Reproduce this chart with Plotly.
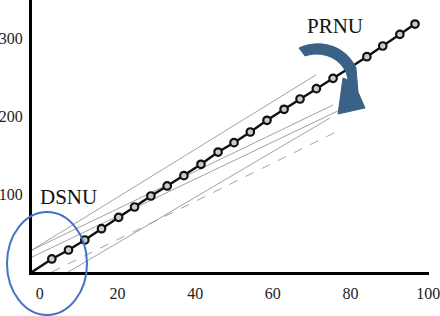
import plotly.graph_objects as go

# ---- data ----
origin_x = -2.0
origin_y = 0.0
marker_x = [3.1, 7.4, 11.6, 15.9, 20.3, 24.4, 28.6, 32.8, 37.1, 41.5, 45.9, 50.0,
            54.2, 58.5, 62.9, 67.0, 71.2, 75.5, 79.8, 84.2, 88.3, 92.7, 96.6]
marker_y = [16.7, 28.2, 41.0, 55.5, 70.1, 83.3, 97.4, 110.3, 123.5, 138.1, 153.8, 165.8,
            179.5, 194.5, 208.6, 221.8, 235.0, 248.3, 261.9, 276.0, 289.7, 304.7, 317.9]

# thin response lines of individual pixels (start / end points)
fan_x0 = [-2.0, -2.0, -2.0, 3.1, 7.3]
fan_y0 = [28.2, 28.2, 19.2, 0.0, 0.0]
fan_x1 = [71.1, 75.5, 76.7, 77.8, 74.7]
fan_y1 = [252.6, 214.1, 206.4, 183.3, 197.4]

x_ticks = [0, 20, 40, 60, 80, 100]
y_ticks = [100, 200, 300]
labels = ["DSNU", "PRNU"]

# ---- layout geometry ----
W, H = 440, 316
ML, MR, MT, MB = 32, 11, 0, 44
PW, PH = W - ML - MR, H - MT - MB
fan_styles = ["solid", "solid", "solid", "dash", "solid"]


def pp(px, py):
    """pixel -> paper coordinates (for decorations only)"""
    return (px - ML) / PW, (H - MB - py) / PH


fig = go.Figure()

for i in range(len(fan_x0)):
    fig.add_trace(go.Scatter(
        x=[fan_x0[i], fan_x1[i]], y=[fan_y0[i], fan_y1[i]], mode="lines",
        line=dict(color="#8a8a8a", width=0.8, dash=fan_styles[i]),
        hoverinfo="skip", showlegend=False))

fig.add_trace(go.Scatter(
    x=[origin_x] + marker_x, y=[origin_y] + marker_y, mode="lines",
    line=dict(color="#111111", width=2.4), showlegend=False))
fig.add_trace(go.Scatter(
    x=marker_x, y=marker_y, mode="markers",
    marker=dict(symbol="circle", size=7.5, color="#cccccc",
                line=dict(color="#111111", width=2.2)),
    showlegend=False))

# blue ellipse around the DSNU region
ex0, ey0 = pp(7, 212)
ex1, ey1 = pp(87, 315)
fig.add_shape(type="circle", xref="paper", yref="paper",
              x0=ex0, y0=ey1, x1=ex1, y1=ey0,
              line=dict(color="#4472C4", width=2), fillcolor="rgba(0,0,0,0)")

# curved PRNU arrow
def P(px, py):
    a, b = pp(px, py)
    return f"{a:.4f},{b:.4f}"

arrow_path = (
    f"M {P(299,48)} C {P(318,39)} {P(345,44)} {P(356,68)} "
    f"L {P(358,92)} L {P(365,108)} L {P(338,114)} L {P(343,78)} L {P(348,80)} "
    f"C {P(346,62)} {P(326,49)} {P(305,56)} Z"
)
fig.add_shape(type="path", xref="paper", yref="paper", path=arrow_path,
              fillcolor="#3B6286", line=dict(color="#3B6286", width=1))

ax, ay = pp(68.5, 197)
fig.add_annotation(x=ax, y=ay, xref="paper", yref="paper", text=labels[0],
                   showarrow=False, font=dict(family="Liberation Serif", size=21, color="#111111"),
                   xanchor="center", yanchor="middle")
bx, by = pp(334.5, 26)
fig.add_annotation(x=bx, y=by, xref="paper", yref="paper", text=labels[1],
                   showarrow=False, font=dict(family="Liberation Serif", size=21, color="#111111"),
                   xanchor="center", yanchor="middle")

fig.update_layout(
    width=W, height=H,
    margin=dict(l=ML, r=MR, t=MT, b=MB, pad=0),
    paper_bgcolor="white", plot_bgcolor="white",
    xaxis=dict(range=[-2, 100.2], tickvals=x_ticks, showgrid=False, zeroline=False,
               showline=True, linecolor="#000000", linewidth=3,
               ticks="outside", ticklen=5, tickcolor="rgba(0,0,0,0)",
               ticklabeloverflow="allow",
               tickfont=dict(family="Liberation Serif", size=16, color="#222222")),
    yaxis=dict(range=[0, 348.7], tickvals=y_ticks, showgrid=False, zeroline=False,
               showline=True, linecolor="#000000", linewidth=3,
               ticks="outside", ticklen=3, tickcolor="rgba(0,0,0,0)",
               tickfont=dict(family="Liberation Serif", size=16, color="#222222")),
)

fig.write_html("out.html")
